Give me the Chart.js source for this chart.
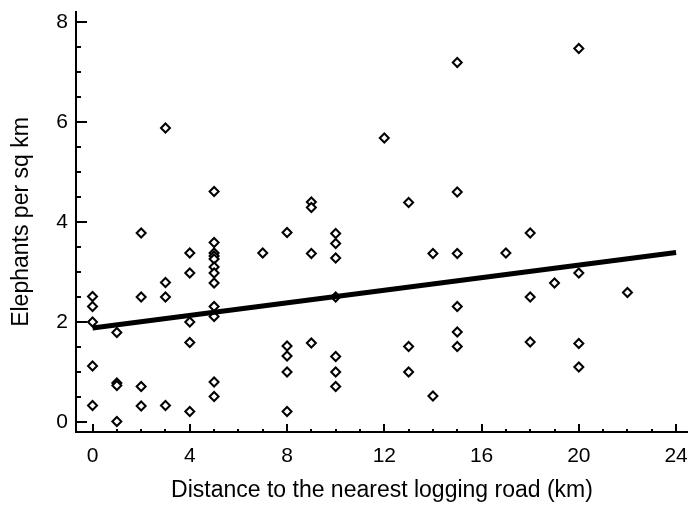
<!DOCTYPE html>
<html><head><meta charset="utf-8">
<script src="https://cdn.jsdelivr.net/npm/chart.js@4/dist/chart.umd.min.js"></script>
<style>html,body{margin:0;padding:0;background:#fff}#wrap{width:688px;height:506px}</style>
</head><body><div id="wrap"><canvas id="c" width="688" height="506"></canvas></div>
<script>
// Distance to nearest logging road (km) and elephant density (per sq km)
const distances = [
  0,0,0,0,0,
  1,1,1,1,
  2,2,2,2,
  3,3,3,3,
  4,4,4,4,4,
  5,5,5,5,5,5,5,5,5,5,5,5,
  7,
  8,8,8,8,8,
  9,9,9,9,
  10,10,10,10,10,10,10,
  12,
  13,13,13,
  14,14,
  15,15,15,15,15,15,
  17,
  18,18,18,
  19,
  20,20,20,20,
  22
];
const densities = [
  2.51,2.31,2.0,1.12,0.33,
  1.79,0.78,0.73,0.01,
  3.78,2.5,0.71,0.32,
  5.88,2.79,2.5,0.33,
  3.38,2.98,2.0,1.59,0.21,
  4.61,3.59,3.38,3.32,3.26,3.1,2.98,2.78,2.31,2.11,0.8,0.51,
  3.38,
  3.79,1.52,1.32,1.0,0.21,
  4.4,4.29,3.37,1.58,
  3.77,3.57,3.28,2.5,1.31,1.0,0.71,
  5.68,
  4.39,1.51,1.0,
  3.37,0.52,
  7.19,4.6,3.37,2.31,1.8,1.51,
  3.38,
  3.78,2.5,1.6,
  2.78,
  7.47,2.98,1.57,1.1,
  2.59
];
const fitX = [0, 24];
const fitY = [1.88, 3.39];
const xTickLabels = [0, 4, 8, 12, 16, 20, 24];
const yTickLabels = [0, 2, 4, 6, 8];
const xMinorTicks = [1,2,3,5,6,7,9,10,11,13,14,15,17,18,19,21,22,23];
const yMinorTicks = [0.5,1,1.5,2.5,3,3.5,4.5,5,5.5,6.5,7,7.5];

const scatterData = distances.map((d, i) => ({x: d, y: densities[i]}));
const fitData = fitX.map((d, i) => ({x: d, y: fitY[i]}));

const inwardTicks = {
  id: 'inwardTicks',
  afterDraw(chart) {
    const {ctx, chartArea: a, scales: {x, y}} = chart;
    ctx.save();
    ctx.strokeStyle = '#000';
    const seg = (x1, y1, x2, y2, w) => { ctx.lineWidth = w; ctx.beginPath(); ctx.moveTo(x1, y1); ctx.lineTo(x2, y2); ctx.stroke(); };
    const xb = a.bottom + 1;
    xTickLabels.forEach(v => { const p = Math.round(x.getPixelForValue(v)); seg(p, xb, p, xb - 9, 2); });
    xMinorTicks.forEach(v => { const p = Math.round(x.getPixelForValue(v)); seg(p, xb, p, xb - 4, 2); });
    const yl = a.left - 1;
    yTickLabels.forEach(v => { const p = Math.round(y.getPixelForValue(v)); seg(yl, p, yl + 12, p, 2); });
    yMinorTicks.forEach(v => { const p = Math.round(y.getPixelForValue(v)); seg(yl, p, yl + 6, p, 2); });
    ctx.restore();
  }
};

Chart.defaults.font.family = "'Liberation Sans', Arial, sans-serif";
Chart.defaults.color = '#000';

new Chart(document.getElementById('c'), {
  type: 'scatter',
  data: {
    datasets: [
      {
        type: 'line',
        data: fitData,
        borderColor: '#000',
        borderWidth: 5,
        pointRadius: 0,
        fill: false,
        tension: 0,
        clip: false
      },
      {
        data: scatterData,
        pointStyle: 'rectRot',
        pointRadius: 4.5,
        pointBorderWidth: 2,
        pointBorderColor: '#000',
        pointBackgroundColor: '#fff',
        borderColor: '#000',
        backgroundColor: '#fff',
        clip: false
      }
    ]
  },
  options: {
    responsive: false,
    animation: false,
    devicePixelRatio: 1,
    layout: {autoPadding: false, padding: {top: 12, right: 0, bottom: 0, left: 0}},
    plugins: {legend: {display: false}, tooltip: {enabled: false}},
    scales: {
      x: {
        type: 'linear',
        min: -0.68,
        max: 24.49,
        afterBuildTicks: s => { s.ticks = xTickLabels.map(v => ({value: v})); },
        afterFit: s => { s.height = 74; s.paddingLeft = 0; s.paddingRight = 0; },
        grid: {display: false, drawTicks: false},
        border: {display: true, color: '#000', width: 2},
        ticks: {font: {size: 21}, color: '#000', padding: 12, maxRotation: 0, autoSkip: false},
        title: {display: true, text: 'Distance to the nearest logging road (km)', font: {size: 23}, color: '#000', padding: {top: 0, bottom: 2}}
      },
      y: {
        type: 'linear',
        min: -0.2,
        max: 8.2,
        afterBuildTicks: s => { s.ticks = yTickLabels.map(v => ({value: v})); },
        afterFit: s => { s.width = 76; s.paddingTop = 0; s.paddingBottom = 0; },
        grid: {display: false, drawTicks: false},
        border: {display: true, color: '#000', width: 2},
        ticks: {font: {size: 21}, color: '#000', padding: 8},
        title: {display: true, text: 'Elephants per sq km', font: {size: 23}, color: '#000', padding: {top: 8, bottom: 0}}
      }
    }
  },
  plugins: [inwardTicks]
});
</script>
</body></html>
